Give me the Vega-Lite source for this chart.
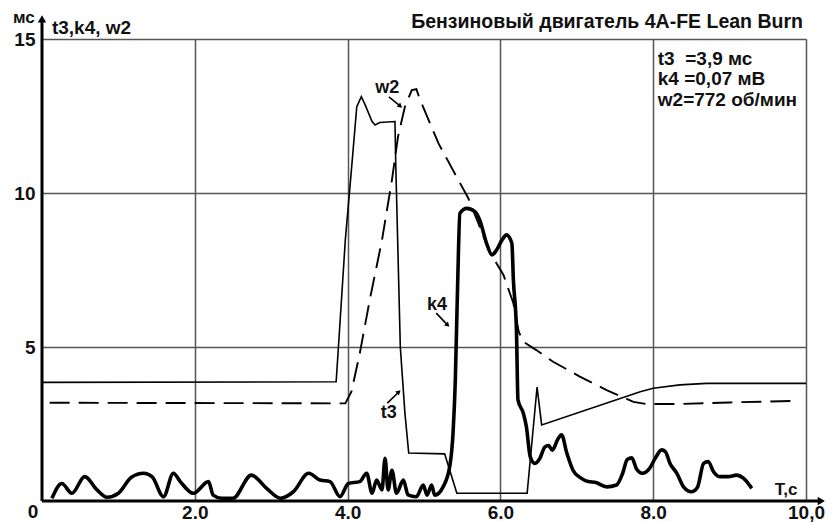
{
  "$schema": "https://vega.github.io/schema/vega-lite/v6.json",
  "width": 764,
  "height": 462,
  "autosize": "none",
  "padding": {"left": 42, "top": 39, "right": 31, "bottom": 21},
  "background": "white",
  "config": {"view": {"stroke": null}, "font": "Liberation Sans"},
  "datasets": {
    "t3": [
      {"x": 0, "y": 3.85}, {"x": 3.85, "y": 3.87}, {"x": 3.88, "y": 5.0}, {"x": 3.97, "y": 8.47},
      {"x": 4.05, "y": 10.75}, {"x": 4.12, "y": 12.8}, {"x": 4.18, "y": 13.13}, {"x": 4.23, "y": 12.86},
      {"x": 4.32, "y": 12.32}, {"x": 4.36, "y": 12.21}, {"x": 4.42, "y": 12.29}, {"x": 4.62, "y": 12.32},
      {"x": 4.63, "y": 10.96}, {"x": 4.69, "y": 5.0}, {"x": 4.75, "y": 2.86}, {"x": 4.8, "y": 1.56},
      {"x": 5.27, "y": 1.53}, {"x": 5.43, "y": 0.25}, {"x": 6.35, "y": 0.25}, {"x": 6.48, "y": 3.7},
      {"x": 6.54, "y": 2.47}, {"x": 7.83, "y": 3.55}, {"x": 8.0, "y": 3.66}, {"x": 8.35, "y": 3.77},
      {"x": 8.7, "y": 3.82}, {"x": 10.0, "y": 3.82}
    ],
    "w2": [
      {"x": 0.1, "y": 3.19}, {"x": 3.97, "y": 3.17}, {"x": 4.05, "y": 3.55}, {"x": 4.16, "y": 4.8},
      {"x": 4.29, "y": 6.53}, {"x": 4.45, "y": 8.47}, {"x": 4.58, "y": 10.42}, {"x": 4.66, "y": 11.83},
      {"x": 4.75, "y": 12.8}, {"x": 4.84, "y": 13.34}, {"x": 4.9, "y": 13.37}, {"x": 4.95, "y": 13.02},
      {"x": 5.19, "y": 11.61}, {"x": 5.45, "y": 10.42}, {"x": 5.58, "y": 9.83}, {"x": 5.86, "y": 8.09},
      {"x": 6.04, "y": 7.34}, {"x": 6.17, "y": 6.42}, {"x": 6.24, "y": 5.5}, {"x": 6.3, "y": 5.17},
      {"x": 6.47, "y": 4.9}, {"x": 6.69, "y": 4.52}, {"x": 7.04, "y": 4.04}, {"x": 7.39, "y": 3.6},
      {"x": 7.74, "y": 3.22}, {"x": 7.91, "y": 3.15}, {"x": 8.35, "y": 3.15}, {"x": 9.0, "y": 3.2},
      {"x": 9.85, "y": 3.25}
    ],
    "k4": [
      {"x": 0.13, "y": 0.09}, {"x": 0.26, "y": 0.57}, {"x": 0.39, "y": 0.25}, {"x": 0.56, "y": 0.79},
      {"x": 0.72, "y": 0.36}, {"x": 0.85, "y": 0.12}, {"x": 1.0, "y": 0.25}, {"x": 1.17, "y": 0.77},
      {"x": 1.33, "y": 0.9}, {"x": 1.44, "y": 0.79}, {"x": 1.59, "y": 0.14}, {"x": 1.72, "y": 0.9},
      {"x": 1.81, "y": 0.63}, {"x": 1.98, "y": 0.25}, {"x": 2.18, "y": 0.63}, {"x": 2.24, "y": 0.19},
      {"x": 2.35, "y": 0.09}, {"x": 2.5, "y": 0.09}, {"x": 2.74, "y": 0.84}, {"x": 2.94, "y": 0.41},
      {"x": 3.12, "y": 0.09}, {"x": 3.29, "y": 0.3}, {"x": 3.49, "y": 0.9}, {"x": 3.64, "y": 0.68},
      {"x": 3.77, "y": 0.63}, {"x": 3.9, "y": 0.14}, {"x": 4.01, "y": 0.57}, {"x": 4.16, "y": 0.63},
      {"x": 4.25, "y": 0.9}, {"x": 4.32, "y": 0.25}, {"x": 4.38, "y": 0.68}, {"x": 4.45, "y": 0.36},
      {"x": 4.49, "y": 1.39}, {"x": 4.53, "y": 0.36}, {"x": 4.58, "y": 1.0}, {"x": 4.64, "y": 0.25},
      {"x": 4.73, "y": 0.68}, {"x": 4.79, "y": 0.2}, {"x": 4.9, "y": 0.14}, {"x": 4.99, "y": 0.52},
      {"x": 5.04, "y": 0.19}, {"x": 5.1, "y": 0.52}, {"x": 5.14, "y": 0.19}, {"x": 5.25, "y": 0.46},
      {"x": 5.34, "y": 1.17}, {"x": 5.38, "y": 2.2}, {"x": 5.41, "y": 3.93}, {"x": 5.44, "y": 7.0},
      {"x": 5.47, "y": 9.34}, {"x": 5.56, "y": 9.5}, {"x": 5.67, "y": 9.39}, {"x": 5.73, "y": 9.12},
      {"x": 5.82, "y": 8.36}, {"x": 5.89, "y": 7.99}, {"x": 5.95, "y": 8.15}, {"x": 6.02, "y": 8.47},
      {"x": 6.08, "y": 8.64}, {"x": 6.15, "y": 8.37}, {"x": 6.17, "y": 7.18}, {"x": 6.21, "y": 5.55},
      {"x": 6.23, "y": 3.28}, {"x": 6.3, "y": 2.85}, {"x": 6.34, "y": 2.41}, {"x": 6.39, "y": 1.44},
      {"x": 6.45, "y": 1.22}, {"x": 6.52, "y": 1.4}, {"x": 6.58, "y": 1.75}, {"x": 6.63, "y": 1.8},
      {"x": 6.68, "y": 1.65}, {"x": 6.75, "y": 2.0}, {"x": 6.8, "y": 2.15}, {"x": 6.87, "y": 1.55},
      {"x": 6.95, "y": 1.0}, {"x": 7.05, "y": 0.75}, {"x": 7.15, "y": 0.63}, {"x": 7.25, "y": 0.6},
      {"x": 7.39, "y": 0.46}, {"x": 7.52, "y": 0.52}, {"x": 7.6, "y": 0.9}, {"x": 7.66, "y": 1.35},
      {"x": 7.72, "y": 1.4}, {"x": 7.78, "y": 1.05}, {"x": 7.86, "y": 0.9}, {"x": 7.95, "y": 1.05},
      {"x": 8.03, "y": 1.4}, {"x": 8.11, "y": 1.66}, {"x": 8.16, "y": 1.6}, {"x": 8.22, "y": 1.22},
      {"x": 8.31, "y": 0.9}, {"x": 8.4, "y": 0.45}, {"x": 8.5, "y": 0.3}, {"x": 8.58, "y": 0.45},
      {"x": 8.66, "y": 1.22}, {"x": 8.72, "y": 1.28}, {"x": 8.79, "y": 0.95}, {"x": 8.87, "y": 0.79},
      {"x": 8.98, "y": 0.79}, {"x": 9.09, "y": 0.84}, {"x": 9.18, "y": 0.74}, {"x": 9.29, "y": 0.41}
    ],
    "axes": [
      {"axis": "y", "x": 0, "y": 0, "x2": 0, "y2": 15.65},
      {"axis": "x", "x": 0, "y": 0, "x2": 10.2, "y2": 0}
    ],
    "axisHeads": [
      {"axis": "y", "x": 0, "y": 15.65},
      {"axis": "x", "x": 10.2, "y": 0}
    ],
    "arrows": [
      {"label": "w2", "x": 4.54, "y": 13.12, "x2": 4.69, "y2": 12.82},
      {"label": "k4", "x": 5.16, "y": 6.1, "x2": 5.31, "y2": 5.71},
      {"label": "t3", "x": 4.52, "y": 3.18, "x2": 4.67, "y2": 3.54}
    ],
    "heads": [
      {"label": "w2", "x": 4.69, "y": 12.82},
      {"label": "k4", "x": 5.31, "y": 5.71},
      {"label": "t3", "x": 4.67, "y": 3.54}
    ],
    "curveLabels": [
      {"x": 4.52, "y": 13.41, "text": "w2"},
      {"x": 5.17, "y": 6.36, "text": "k4"},
      {"x": 4.54, "y": 2.86, "text": "t3"}
    ],
    "notes": [
      {"x": 8.06, "y": 14.16, "text": "t3\u00a0\u00a0=3,9 мс"},
      {"x": 8.06, "y": 13.5, "text": "k4 =0,07 мВ"},
      {"x": 8.06, "y": 12.84, "text": "w2=772 об/мин"},
      {"x": 0.13, "y": 15.16, "text": "t3,k4, w2"}
    ],
    "title": [
      {"x": 9.96, "y": 15.36, "text": "Бензиновый двигатель 4A-FE Lean Burn"}
    ],
    "small": [
      {"x": -0.38, "y": 15.52, "text": "мс"},
      {"x": 9.59, "y": 0.2, "text": "T,c"}
    ],
    "origin": [
      {"x": 0, "y": 0, "text": "0"}
    ]
  },
  "encoding": {
    "x": {
      "field": "x", "type": "quantitative",
      "scale": {"domain": [0, 10], "nice": false, "zero": false},
      "axis": {
        "values": [2, 4, 6, 8, 10], "grid": true, "gridColor": "#555", "gridWidth": 1.5,
        "domain": false, "ticks": false, "title": null,
        "labelFont": "Liberation Sans", "labelFontWeight": "bold", "labelFontSize": 19,
        "labelColor": "#111", "labelPadding": 2, "labelFlush": false, "labelOverlap": false,
        "labelExpr": "datum.value == 10 ? '10,0' : format(datum.value, '.1f')"
      }
    },
    "y": {
      "field": "y", "type": "quantitative",
      "scale": {"domain": [0, 15], "nice": false, "zero": false},
      "axis": {
        "values": [5, 10, 15], "grid": true, "gridColor": "#555", "gridWidth": 1.5,
        "domain": false, "ticks": false, "title": null,
        "labelFont": "Liberation Sans", "labelFontWeight": "bold", "labelFontSize": 19,
        "labelColor": "#111", "labelPadding": 7, "labelFlush": false, "labelOverlap": false
      }
    }
  },
  "layer": [
    {"data": {"name": "t3"}, "mark": {"type": "line", "color": "#000", "strokeWidth": 1.6}},
    {"data": {"name": "w2"}, "mark": {"type": "line", "color": "#000", "strokeWidth": 1.9, "strokeDash": [20, 9]}},
    {"data": {"name": "k4"}, "mark": {"type": "line", "color": "#000", "strokeWidth": 3.6, "interpolate": "monotone", "strokeJoin": "round"}},
    {"data": {"name": "axes"}, "mark": {"type": "rule", "color": "#000", "strokeWidth": 3},
     "encoding": {"x2": {"field": "x2"}, "y2": {"field": "y2"}}},
    {"data": {"name": "axisHeads"}, "mark": {"type": "point", "filled": true, "color": "#000", "size": 70, "opacity": 1},
     "encoding": {"shape": {"field": "axis", "type": "nominal", "scale": {"domain": ["y", "x"], "range": ["triangle-up", "triangle-right"]}, "legend": null}}},
    {"data": {"name": "arrows"}, "mark": {"type": "rule", "color": "#000", "strokeWidth": 1.6},
     "encoding": {"x2": {"field": "x2"}, "y2": {"field": "y2"}}},
    {"data": {"name": "heads"}, "transform": [{"filter": "datum.label == 'w2'"}],
     "mark": {"type": "point", "shape": "triangle-up", "filled": true, "color": "#000", "size": 30, "angle": 129, "opacity": 1}},
    {"data": {"name": "heads"}, "transform": [{"filter": "datum.label == 'k4'"}],
     "mark": {"type": "point", "shape": "triangle-up", "filled": true, "color": "#000", "size": 30, "angle": 135, "opacity": 1}},
    {"data": {"name": "heads"}, "transform": [{"filter": "datum.label == 't3'"}],
     "mark": {"type": "point", "shape": "triangle-up", "filled": true, "color": "#000", "size": 30, "angle": 47, "opacity": 1}},
    {"data": {"name": "curveLabels"}, "mark": {"type": "text", "font": "Liberation Sans", "fontWeight": "bold", "fontSize": 18, "align": "center", "baseline": "middle", "color": "#111"},
     "encoding": {"text": {"field": "text"}}},
    {"data": {"name": "notes"}, "mark": {"type": "text", "font": "Liberation Sans", "fontWeight": "bold", "fontSize": 19, "align": "left", "baseline": "alphabetic", "color": "#111"},
     "encoding": {"text": {"field": "text"}}},
    {"data": {"name": "title"}, "mark": {"type": "text", "font": "Liberation Sans", "fontWeight": "bold", "fontSize": 19.5, "align": "right", "baseline": "alphabetic", "color": "#111"},
     "encoding": {"text": {"field": "text"}}},
    {"data": {"name": "small"}, "mark": {"type": "text", "font": "Liberation Sans", "fontWeight": "bold", "fontSize": 17, "align": "left", "baseline": "alphabetic", "color": "#111"},
     "encoding": {"text": {"field": "text"}}},
    {"data": {"name": "origin"}, "mark": {"type": "text", "font": "Liberation Sans", "fontWeight": "bold", "fontSize": 19, "align": "center", "baseline": "top", "dx": -9, "dy": 2, "color": "#111"},
     "encoding": {"text": {"field": "text"}}}
  ]
}
